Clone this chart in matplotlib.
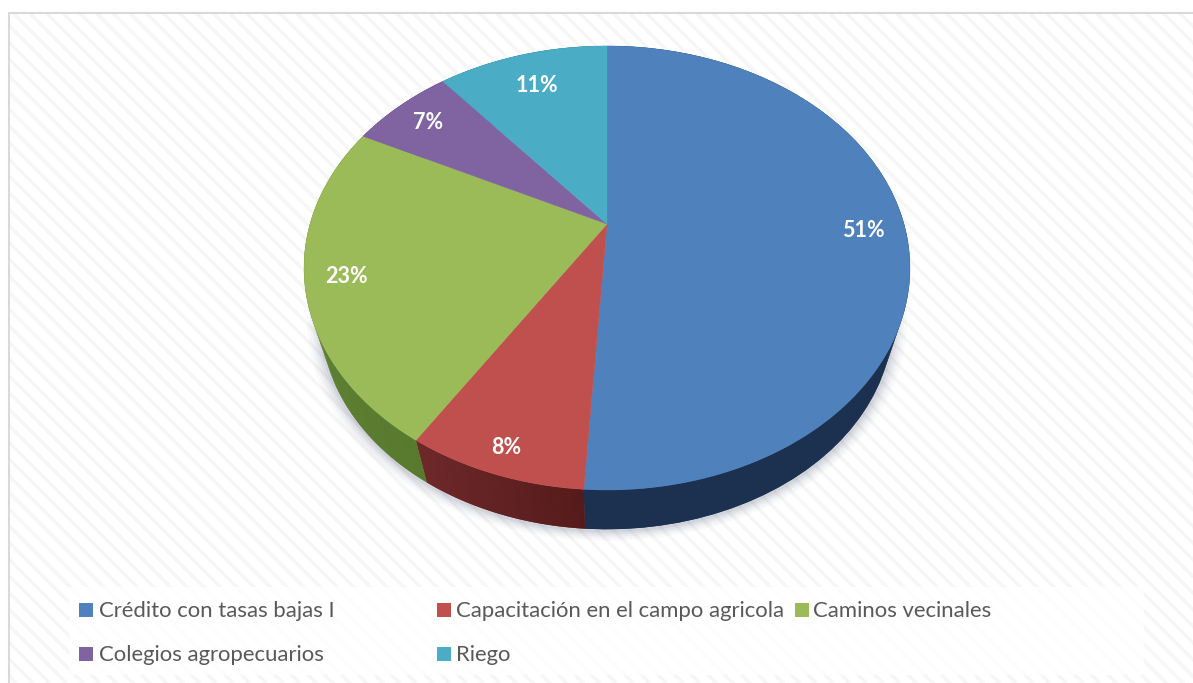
import numpy as np
import matplotlib
matplotlib.use("Agg")
import matplotlib.pyplot as plt
from matplotlib.colors import to_rgb
from matplotlib.patches import Rectangle, Polygon
from matplotlib.path import Path
from matplotlib.transforms import Transform, Affine2D

categories = ["Crédito con tasas bajas I", "Capacitación en el campo agricola",
              "Caminos vecinales", "Colegios agropecuarios", "Riego"]
values = [51, 8, 23.4, 6.6, 11]
top_colors = ["#4f81bd", "#c0504d", "#9bbb59", "#8064a2", "#4bacc6"]
side_start = ["#1c3150", "#70292b", "#6b8a3c", "#4d3b63", "#2b6a7c"]
side_end = ["#1c3150", "#551b1b", "#587a2e", "#4d3b63", "#2b6a7c"]

plt.rcParams["font.family"] = ["Lato", "DejaVu Sans"]
plt.rcParams["hatch.linewidth"] = 2.4

CX, CY = 607, 224
MID_Y = 268
TILT = 0.198
SCALE_X, SCALE_Y = 297, 213.3
# the lower rim is a smaller copy of the top rim, moved down
LOW_SCALE, LOW_DROP = 0.943, 52


# Tilted-disc projection from the unit pie to image pixels
def project(xy):
    xy = np.asarray(xy, dtype=float)
    w = 1 + TILT * xy[:, 1]
    return np.column_stack([CX + SCALE_X * xy[:, 0] / w,
                            CY - SCALE_Y * xy[:, 1] / w])


def lower(pts, grow=1.0, extra=0):
    out = pts.copy()
    out[:, 0] = CX + (out[:, 0] - CX) * LOW_SCALE * grow
    out[:, 1] = MID_Y + (out[:, 1] - MID_Y) * LOW_SCALE * grow + LOW_DROP + extra
    return out


class TiltTransform(Transform):
    input_dims = 2
    output_dims = 2

    def transform_non_affine(self, values):
        return project(values)

    def transform_path_non_affine(self, path):
        # flatten the wedge curves first, otherwise the arcs go through control points
        poly = path.to_polygons(Affine2D().scale(1000), closed_only=True)[0] / 1000
        return Path(project(poly))


def rim(theta1, theta2, n=60):
    t = np.radians(np.linspace(theta1, theta2, n))
    return np.column_stack([np.cos(t), np.sin(t)])


fig = plt.figure(figsize=(11.93, 6.83), dpi=100)
ax = fig.add_axes([0, 0, 1, 1])

wedges, _ = ax.pie(values, colors=top_colors, startangle=90, counterclock=False)
ax.set_aspect("auto")
ax.set_xlim(0, 1193)
ax.set_ylim(683, 0)
ax.axis("off")

# chart area background
ax.add_patch(Rectangle((8.5, 12.5), 1190, 680, facecolor="white", edgecolor="#f6f6f6",
                       hatch="\\\\", linewidth=0, zorder=0))
ax.plot([8.5, 8.5, 1193], [683, 12.5, 12.5], color="#d9d9d9", lw=1.5, zorder=0.5)

# soft shadow under the disc
outline = project(rim(0, 360, 360))
for grow, alpha in zip([1.05, 1.04, 1.03, 1.02, 1.01], [0.03, 0.04, 0.06, 0.08, 0.1]):
    ax.add_patch(Polygon(lower(outline, grow, 1), closed=True, facecolor="#5f6b80",
                         edgecolor="none", alpha=alpha, zorder=1))

# side walls: a solid base, then thin strips so the shading can run along each slice
for w, c0, c1 in zip(wedges, side_start, side_end):
    arc = project(rim(w.theta1, w.theta2))
    low = lower(arc)
    c0, c1 = np.array(to_rgb(c0)), np.array(to_rgb(c1))
    ax.add_patch(Polygon(np.vstack([arc, low[::-1]]), closed=True, facecolor=(c0 + c1) / 2,
                         edgecolor="none", zorder=2))
    for i in range(len(arc) - 1):
        col = c0 + (c1 - c0) * i / (len(arc) - 2)
        quad = [arc[i], arc[i + 1], low[i + 1], low[i]]
        ax.add_patch(Polygon(quad, closed=True, facecolor=col, edgecolor="none", zorder=2.1))

for w, col in zip(wedges, top_colors):
    w.set_transform(TiltTransform() + ax.transData)
    w.set_facecolor(col)
    w.set_edgecolor(col)
    w.set_linewidth(0.3)
    w.set_zorder(3)

# percent labels, pushed out along the middle of each slice
label_r = [0.86, 0.91, 0.87, 0.85, 0.8]
for w, val, r in zip(wedges, values, label_r):
    mid = np.radians((w.theta1 + w.theta2) / 2)
    x, y = project([[r * np.cos(mid), r * np.sin(mid)]])[0]
    ax.text(x, y + 1, f"{val:.0f}%", color="white", fontsize=15.5, fontweight="bold",
            ha="center", va="center", zorder=4)

# legend panel, laid out by hand since its columns are uneven
ax.add_patch(Rectangle((69, 587), 1075, 88, facecolor="white", edgecolor="none",
                       alpha=0.85, zorder=1))
legend_x = [79, 437, 795, 79, 437]
text_x = [99, 456, 813, 99, 456]
legend_y = [610, 610, 610, 654, 654]
for name, col, lx, tx, ly in zip(categories, top_colors, legend_x, text_x, legend_y):
    ax.add_patch(Rectangle((lx, ly - 7), 14, 14, facecolor=col, edgecolor="none", zorder=4))
    ax.text(tx, ly + 1, name, color="#595959", fontsize=15.9, ha="left", va="center", zorder=4)

fig.savefig("out.png", dpi=100)
